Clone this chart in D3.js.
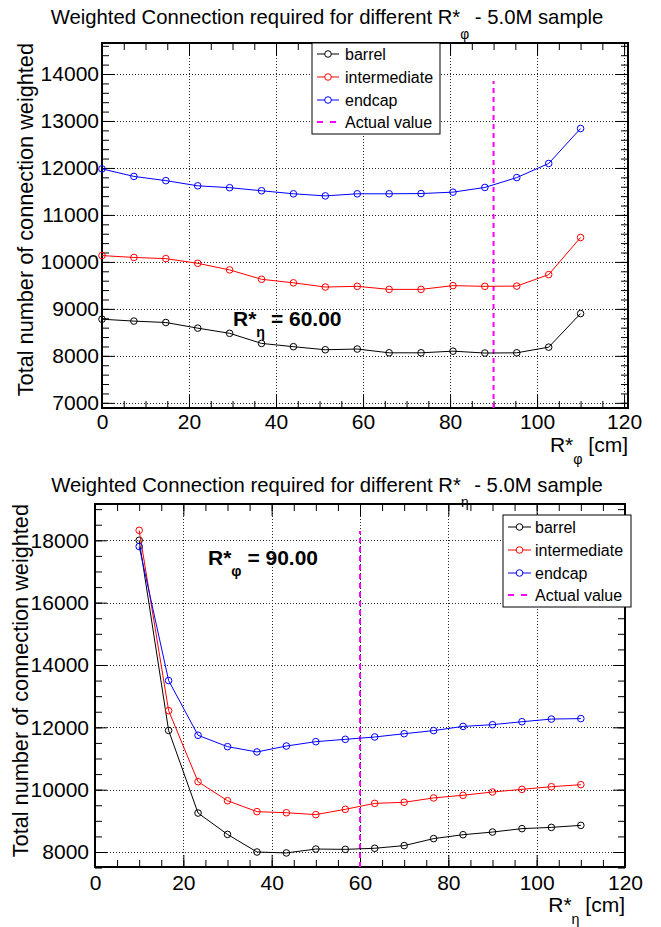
<!DOCTYPE html>
<html>
<head>
<meta charset="utf-8">
<script src="https://cdn.jsdelivr.net/npm/d3@7/dist/d3.min.js"></script>
<style>
  html, body { margin: 0; padding: 0; background: #fff; }
  svg { display: block; font-family: "Liberation Sans", Arial, Helvetica, sans-serif; }
</style>
</head>
<body>
<svg id="chart" width="661" height="927"></svg>
<script>
// ---------- DATA ----------
const seriesNames = ["barrel", "intermediate", "endcap"];
const legendLabels = ["barrel", "intermediate", "endcap", "Actual value"];

// Top panel: scan over R*_phi at R*_eta = 60
const topX = [0, 7.33, 14.67, 22, 29.33, 36.67, 44, 51.33, 58.67, 66, 73.33, 80.67, 88, 95.33, 102.67, 110];
const topBarrel = [8780, 8740, 8710, 8590, 8480, 8265, 8195, 8130, 8145, 8065, 8065, 8100, 8060, 8065, 8185, 8900];
const topIntermediate = [10135, 10095, 10070, 9970, 9830, 9630, 9555, 9465, 9480, 9415, 9415, 9495, 9480, 9485, 9730, 10520];
const topEndcap = [11980, 11820, 11730, 11620, 11580, 11515, 11450, 11405, 11450, 11450, 11455, 11485, 11585, 11795, 12095, 12840];
const topActualX = 90;
const topActualY = [6890, 13850];
const topXTicks = [0, 20, 40, 60, 80, 100, 120];
const topYTicks = [7000, 8000, 9000, 10000, 11000, 12000, 13000, 14000];

// Bottom panel: scan over R*_eta at R*_phi = 90
const botX = [10, 16.67, 23.33, 30, 36.67, 43.33, 50, 56.67, 63.33, 70, 76.67, 83.33, 90, 96.67, 103.33, 110];
const botBarrel = [18000, 11900, 9250, 8565, 8000, 7970, 8095, 8085, 8120, 8205, 8430, 8555, 8640, 8750, 8790, 8855];
const botIntermediate = [18320, 12535, 10255, 9645, 9295, 9260, 9200, 9370, 9560, 9595, 9735, 9820, 9925, 10010, 10095, 10160];
const botEndcap = [17800, 13500, 11745, 11380, 11210, 11400, 11540, 11615, 11690, 11795, 11895, 12030, 12085, 12180, 12265, 12280];
const botActualX = 60;
const botActualY = [7519, 18300];
const botXTicks = [0, 20, 40, 60, 80, 100, 120];
const botYTicks = [8000, 10000, 12000, 14000, 16000, 18000];

const colors = ["#000000", "#ff0000", "#0000ff"];
const actualColor = "#ff00ff";

// ---------- DRAW ----------
const svg = d3.select("#chart");

function richText(sel, parts, fontSize, subDrop) {
  // parts: array of [text, isSub, restoreBaseline]
  const drop = fontSize * (subDrop || 0.55);
  parts.forEach(p => {
    const t = sel.append("tspan").text(p[0]);
    if (p[1]) {
      t.attr("font-size", fontSize * 0.68).attr("dy", drop);
    } else if (p[2]) {
      t.attr("dy", -drop);
    }
  });
}

function panel(cfg) {
  const g = svg.append("g");
  const x = d3.scaleLinear().domain(cfg.xDomain).range([cfg.left, cfg.right]);
  const y = d3.scaleLinear().domain(cfg.yDomain).range([cfg.bottom, cfg.top]);

  const xMinor = d3.range(0, 121, 5);
  const yMinor = d3.range(cfg.yMinorStart, cfg.yDomain[1], cfg.yMinorStep);

  // grid
  const grid = g.append("g").attr("stroke", "#000").attr("stroke-width", 1)
    .attr("stroke-dasharray", "1,2").attr("opacity", 0.85);
  cfg.xTicks.filter(v => x(v) > cfg.left + 1 && x(v) < cfg.right - 1).forEach(v => {
    grid.append("line").attr("x1", Math.round(x(v)) + 0.5).attr("x2", Math.round(x(v)) + 0.5)
      .attr("y1", cfg.top).attr("y2", cfg.bottom);
  });
  cfg.yTicks.filter(v => y(v) > cfg.top + 1 && y(v) < cfg.bottom - 1).forEach(v => {
    grid.append("line").attr("y1", Math.round(y(v)) + 0.5).attr("y2", Math.round(y(v)) + 0.5)
      .attr("x1", cfg.left).attr("x2", cfg.right);
  });

  // axes
  const fs = cfg.labelSize;
  const axB = g.append("g").attr("transform", `translate(0,${cfg.bottom})`)
    .call(d3.axisBottom(x).tickValues(cfg.xTicks).tickSize(-cfg.majorLen).tickPadding(cfg.xPad).tickFormat(d3.format("d")));
  g.append("g").attr("transform", `translate(0,${cfg.bottom})`)
    .call(d3.axisBottom(x).tickValues(xMinor).tickSize(-cfg.minorLen).tickFormat(""));
  g.append("g").attr("transform", `translate(0,${cfg.top})`)
    .call(d3.axisTop(x).tickValues(cfg.xTicks).tickSize(-cfg.majorLen).tickFormat(""));
  g.append("g").attr("transform", `translate(0,${cfg.top})`)
    .call(d3.axisTop(x).tickValues(xMinor).tickSize(-cfg.minorLen).tickFormat(""));
  const axL = g.append("g").attr("transform", `translate(${cfg.left},0)`)
    .call(d3.axisLeft(y).tickValues(cfg.yTicks).tickSize(-cfg.majorLen).tickPadding(cfg.yPad).tickFormat(d3.format("d")));
  g.append("g").attr("transform", `translate(${cfg.left},0)`)
    .call(d3.axisLeft(y).tickValues(yMinor).tickSize(-cfg.minorLen).tickFormat(""));
  g.append("g").attr("transform", `translate(${cfg.right},0)`)
    .call(d3.axisRight(y).tickValues(cfg.yTicks).tickSize(-cfg.majorLen).tickFormat(""));
  g.append("g").attr("transform", `translate(${cfg.right},0)`)
    .call(d3.axisRight(y).tickValues(yMinor).tickSize(-cfg.minorLen).tickFormat(""));
  g.selectAll(".domain").remove();
  g.selectAll(".tick line").attr("stroke", "#000").attr("stroke-width", 1);
  [axB, axL].forEach(a => a.selectAll("text").attr("font-size", fs).attr("fill", "#000")
    .attr("font-family", "Liberation Sans, Arial, sans-serif"));

  // frame
  g.append("rect").attr("x", cfg.left).attr("y", cfg.top)
    .attr("width", cfg.right - cfg.left).attr("height", cfg.bottom - cfg.top)
    .attr("fill", "none").attr("stroke", "#000").attr("stroke-width", 2);

  // actual value line
  g.append("line").attr("x1", x(cfg.actualX)).attr("x2", x(cfg.actualX))
    .attr("y1", y(cfg.actualY[0])).attr("y2", y(cfg.actualY[1]))
    .attr("stroke", actualColor).attr("stroke-width", 2).attr("stroke-dasharray", "5,4");

  // series
  const line = d3.line().x((d, i) => x(cfg.xs[i])).y(d => y(d));
  cfg.series.forEach((vals, k) => {
    g.append("path").datum(vals).attr("d", line).attr("fill", "none")
      .attr("stroke", colors[k]).attr("stroke-width", 1);
    g.selectAll(null).data(vals).join("circle")
      .attr("cx", (d, i) => x(cfg.xs[i])).attr("cy", d => y(d)).attr("r", 3.3)
      .attr("fill", "none").attr("stroke", colors[k]).attr("stroke-width", 1);
  });

  // legend
  const L = cfg.legend;
  g.append("rect").attr("x", L.x0).attr("y", L.y0).attr("width", L.x1 - L.x0).attr("height", L.y1 - L.y0)
    .attr("fill", "#fff").attr("stroke", "#000").attr("stroke-width", 1);
  legendLabels.forEach((lab, k) => {
    const yy = L.rows[k];
    if (k < 3) {
      g.append("line").attr("x1", L.sx0).attr("x2", L.sx1).attr("y1", yy).attr("y2", yy)
        .attr("stroke", colors[k]).attr("stroke-width", 1);
      g.append("circle").attr("cx", (L.sx0 + L.sx1) / 2).attr("cy", yy).attr("r", 3.3)
        .attr("fill", "#fff").attr("stroke", colors[k]).attr("stroke-width", 1);
    } else {
      g.append("line").attr("x1", L.sx0).attr("x2", L.sx1).attr("y1", yy).attr("y2", yy)
        .attr("stroke", actualColor).attr("stroke-width", 2).attr("stroke-dasharray", "6,7");
    }
    g.append("text").attr("x", L.tx).attr("y", yy).attr("dy", "0.36em")
      .attr("font-size", L.fs).attr("fill", "#000").text(lab);
  });

  // title
  const tt = g.append("text").attr("x", cfg.titleX).attr("y", cfg.titleY).attr("text-anchor", "middle")
    .attr("font-size", cfg.titleSize).attr("fill", "#000");
  richText(tt, [["Weighted Connection required for different R*"], [cfg.sym, true], [" - 5.0M sample", false, true]], cfg.titleSize, 0.75);

  // y title
  g.append("text").attr("transform", `translate(${cfg.yTitleX},${cfg.top}) rotate(-90)`)
    .attr("text-anchor", "end").attr("font-size", cfg.yTitleSize).attr("fill", "#000")
    .text("Total number of connection weighted");

  // x title
  const xt = g.append("text").attr("x", cfg.right).attr("y", cfg.xTitleY).attr("text-anchor", "end")
    .attr("font-size", cfg.xTitleSize).attr("fill", "#000");
  richText(xt, [["R*"], [cfg.sym, true], [" [cm]", false, true]], cfg.xTitleSize, 0.55);

  // annotation
  const an = g.append("text").attr("x", cfg.annX).attr("y", cfg.annY)
    .attr("font-size", cfg.annSize).attr("font-weight", "bold").attr("fill", "#000");
  richText(an, [["R*"], [cfg.annSym, true], [cfg.annText, false, true]], cfg.annSize, 0.5);
}

panel({
  xDomain: [0, 120.9], yDomain: [6890, 14660],
  left: 102, right: 628, top: 43, bottom: 408,
  xs: topX, series: [topBarrel, topIntermediate, topEndcap],
  xTicks: topXTicks, yTicks: topYTicks, yMinorStart: 7000, yMinorStep: 200,
  majorLen: 13, minorLen: 7, labelSize: 21, xPad: 6, yPad: 3,
  actualX: topActualX, actualY: topActualY,
  legend: { x0: 312, x1: 440, y0: 43, y1: 134, rows: [54, 77, 100, 122], sx0: 317, sx1: 339, tx: 345, fs: 16 },
  sym: "φ", titleX: 327, titleY: 24, titleSize: 20.3,
  yTitleX: 33, yTitleSize: 21.7,
  xTitleY: 452, xTitleSize: 21,
  annX: 233, annY: 326, annSize: 21, annSym: "η", annText: " = 60.00"
});

panel({
  xDomain: [0, 120], yDomain: [7519, 19165],
  left: 95, right: 625, top: 504, bottom: 867,
  xs: botX, series: [botBarrel, botIntermediate, botEndcap],
  xTicks: botXTicks, yTicks: botYTicks, yMinorStart: 7500, yMinorStep: 500,
  majorLen: 12, minorLen: 7, labelSize: 21, xPad: 8, yPad: 6,
  actualX: botActualX, actualY: botActualY,
  legend: { x0: 503, x1: 631, y0: 515, y1: 607, rows: [527, 550, 573, 595], sx0: 508, sx1: 531, tx: 535, fs: 16 },
  sym: "η", titleX: 327, titleY: 492, titleSize: 20.3,
  yTitleX: 28, yTitleSize: 21.7,
  xTitleY: 912, xTitleSize: 21,
  annX: 208, annY: 565, annSize: 21, annSym: "φ", annText: " = 90.00"
});
</script>
</body>
</html>
